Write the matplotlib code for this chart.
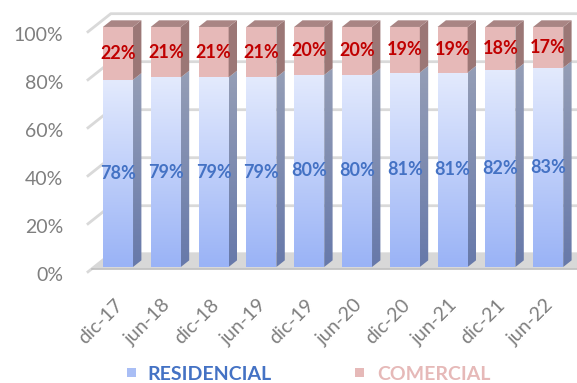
import numpy as np
import matplotlib.pyplot as plt
from matplotlib.patches import Polygon, Rectangle
from matplotlib.colors import to_rgb

# data
periodos = ['dic-17', 'jun-18', 'dic-18', 'jun-19', 'dic-19',
            'jun-20', 'dic-20', 'jun-21', 'dic-21', 'jun-22']
residencial = [78, 79, 79, 79, 80, 80, 81, 81, 82, 83]
comercial = [22, 21, 21, 21, 20, 20, 19, 19, 18, 17]
yticks = [0, 20, 40, 60, 80, 100]

plt.rcParams['font.family'] = ['Lato', 'DejaVu Sans']

# oblique "3D" projection: depth d moves a point by (DX, DY) in data units
DX, DY = 0.50, 7.9
D0, D1 = 0.30, 0.65     # bar front / back depth
W = 0.63                # bar width

def proj(x, v, d):
    return (x + d * DX, v + d * DY)

fig = plt.figure(figsize=(5.77, 3.83), dpi=100)
ax = fig.add_axes([0, 0, 1, 1])
ax.set_axis_off()

grid_c = '#D9D9D9'
n = len(periodos)
x0, x1 = -0.5, n - 0.5

# walls: back wall gridlines and side wall diagonals
for t in yticks:
    p = [proj(x0, t, 0), proj(x0, t, 1), proj(x1 + 2, t, 1)]
    ax.plot([q[0] for q in p], [q[1] for q in p], color=grid_c, lw=2,
            solid_capstyle='butt', zorder=1)
    ax.text(-1.0, t - 1, f'{t}%', ha='right', va='center',
            fontsize=14, color='#7F7F7F')

# floor
floor = [proj(x0, 0, 0.22), proj(x1 + 2, 0, 0.22), proj(x1 + 2, 0, 1), proj(x0, 0, 1)]
ax.add_patch(Polygon(floor, closed=True, fc='#D8D8D8', ec='none', zorder=1.5))
ax.plot([floor[0][0], floor[1][0]], [floor[0][1], floor[1][1]],
        color='#BDBDBD', lw=1.2, zorder=1.6)


def grad_face(verts, c_top, c_bot, vlo, vhi, z):
    poly = Polygon(verts, closed=True, fc='none', ec='none', zorder=z)
    ax.add_patch(poly)
    xs = [p[0] for p in verts]
    t = np.linspace(1, 0, 64)[:, None]
    ct, cb = np.array(to_rgb(c_top)), np.array(to_rgb(c_bot))
    img = (cb + (ct - cb) * t[:, :, None] * np.ones((1, 2, 1)))
    im = ax.imshow(img, extent=[min(xs), max(xs), vlo, vhi], aspect='auto',
                   origin='upper', interpolation='bilinear', zorder=z)
    im.set_clip_path(poly)


def face(verts, color, z):
    ax.add_patch(Polygon(verts, closed=True, fc=color, ec='none', zorder=z))


for i in range(n):
    xl, xr = i - W / 2, i + W / 2
    r, c = residencial[i], comercial[i]
    top = r + c
    # residencial front (gradient)
    fr = [proj(xl, 0, D0), proj(xr, 0, D0), proj(xr, r, D0), proj(xl, r, D0)]
    grad_face(fr, '#E3EAFD', '#9AB3F6', fr[0][1], fr[2][1], 3)
    # residencial side
    sr = [proj(xr, 0, D0), proj(xr, 0, D1), proj(xr, r, D1), proj(xr, r, D0)]
    grad_face(sr, '#959EB6', '#6779AA', proj(0, 0, D0)[1], proj(0, r, D1)[1], 3)
    # comercial front
    face([proj(xl, r, D0), proj(xr, r, D0), proj(xr, top, D0), proj(xl, top, D0)],
         '#E6B9B8', 3)
    # comercial side
    face([proj(xr, r, D0), proj(xr, r, D1), proj(xr, top, D1), proj(xr, top, D0)],
         '#9B7776', 3)
    # top
    face([proj(xl, top, D0), proj(xr, top, D0), proj(xr, top, D1), proj(xl, top, D1)],
         '#A98584', 3)

    # labels
    lx, ly = proj(i, r / 2, D0)
    ax.text(lx, ly, f'{r}%', ha='center', va='center', fontsize=13,
            fontweight='bold', color='#4472C4', zorder=5)
    lx, ly = proj(i, r + c / 2, D0)
    ax.text(lx, ly, f'{c}%', ha='center', va='center', fontsize=13,
            fontweight='bold', color='#C00000', zorder=5)

    # category label
    ax.text(i + 0.07, -9.7, periodos[i], ha='right', va='top', rotation=45,
            rotation_mode='anchor', fontsize=14, color='#7F7F7F')

# legend (pixel positions, origin bottom-left)
ax.add_patch(Rectangle((127, 6), 9, 9, transform=None, fc='#A9BEF5', ec='none'))
fig.text(147 / 577, 1 - 374 / 383, 'RESIDENCIAL', ha='left', va='center',
         fontsize=14, fontweight='bold', color='#4472C4')
ax.add_patch(Rectangle((355, 6), 9, 9, transform=None, fc='#E6B9B8', ec='none'))
fig.text(377 / 577, 1 - 374 / 383, 'COMERCIAL', ha='left', va='center',
         fontsize=14, fontweight='bold', color='#E6B9B8')

ax.set_xlim(-2.318, 9.753)
ax.set_ylim(-45.96, 113.6)

fig.savefig('out.png', dpi=100)
